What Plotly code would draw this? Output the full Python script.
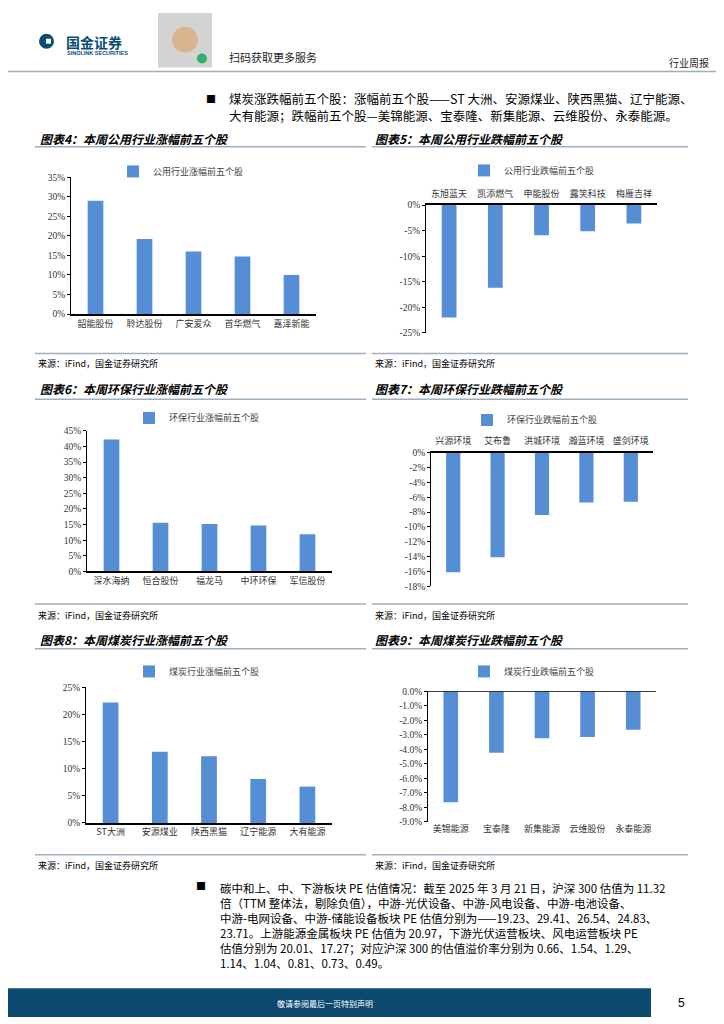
import plotly.graph_objects as go

# The page body adds an 8px margin, so the figure is drawn 8px in and the
# page coordinates below are shifted by that amount.
OFF = 8
W, H = 724 - OFF, 1024 - OFF


def px(x):
    return (x - OFF) / W


def py(y):
    return 1 - (y - OFF) / H


# ---------------- data ----------------
util_up_names = ["韶能股份", "聆达股份", "广安爱众", "首华燃气", "嘉泽新能"]
util_up_vals = [29.0, 19.2, 16.0, 14.7, 10.0]
util_down_names = ["东旭蓝天", "凯添燃气", "申能股份", "露笑科技", "梅雁吉祥"]
util_down_vals = [-22.0, -16.2, -5.9, -5.1, -3.6]
env_up_names = ["深水海纳", "恒合股份", "福龙马", "中环环保", "军信股份"]
env_up_vals = [42.2, 15.6, 15.2, 14.7, 11.9]
env_down_names = ["兴源环境", "艾布鲁", "洪城环境", "瀚蓝环境", "盛剑环境"]
env_down_vals = [-16.1, -14.1, -8.4, -6.7, -6.6]
coal_up_names = ["ST大洲", "安源煤业", "陕西黑猫", "辽宁能源", "大有能源"]
coal_up_vals = [22.2, 13.1, 12.3, 8.1, 6.7]
coal_down_names = ["美锦能源", "宝泰隆", "新集能源", "云维股份", "永泰能源"]
coal_down_vals = [-7.64, -4.24, -3.24, -3.15, -2.65]

ticks4 = [0, 5, 10, 15, 20, 25, 30, 35]
ticks5 = [-25, -20, -15, -10, -5, 0]
ticks6 = [0, 5, 10, 15, 20, 25, 30, 35, 40, 45]
ticks7 = [-18, -16, -14, -12, -10, -8, -6, -4, -2, 0]
ticks8 = [0, 5, 10, 15, 20, 25]
ticks9 = [-9, -8, -7, -6, -5, -4, -3, -2, -1, 0]

legend_names = ["公用行业涨幅前五个股", "公用行业跌幅前五个股",
                "环保行业涨幅前五个股", "环保行业跌幅前五个股",
                "煤炭行业涨幅前五个股", "煤炭行业跌幅前五个股"]
titles = ["图表4：本周公用行业涨幅前五个股", "图表5：本周公用行业跌幅前五个股",
          "图表6：本周环保行业涨幅前五个股", "图表7：本周环保行业跌幅前五个股",
          "图表8：本周煤炭行业涨幅前五个股", "图表9：本周煤炭行业跌幅前五个股"]
source_text = "来源：iFind，国金证券研究所"

top_lines = ["煤炭涨跌幅前五个股：涨幅前五个股——ST 大洲、安源煤业、陕西黑猫、辽宁能源、",
             "大有能源；跌幅前五个股—美锦能源、宝泰隆、新集能源、云维股份、永泰能源。"]
bottom_lines = ["碳中和上、中、下游板块 PE 估值情况：截至 2025 年 3 月 21 日，沪深 300 估值为 11.32",
                "倍（TTM 整体法，剔除负值），中游-光伏设备、中游-风电设备、中游-电池设备、",
                "中游-电网设备、中游-储能设备板块 PE 估值分别为——19.23、29.41、26.54、24.83、",
                "23.71。上游能源金属板块 PE 估值为 20.97，下游光伏运营板块、风电运营板块 PE",
                "估值分别为 20.01、17.27；对应沪深 300 的估值溢价率分别为 0.66、1.54、1.29、",
                "1.14、1.04、0.81、0.73、0.49。"]

# ---------------- styles ----------------
BAR = "#558ED5"
LINE = "#9BB1C3"
CJK = "Noto Sans CJK SC"
SERIF = "Liberation Serif"

charts = [
    dict(names=util_up_names, vals=util_up_vals, ticks=ticks4, fmt="{:d}%", neg=False,
         dom=(71, 316, 174, 312), leg=(181, 168)),
    dict(names=util_down_names, vals=util_down_vals, ticks=ticks5, fmt="{:d}%", neg=True,
         dom=(426, 657, 202, 331), leg=(532, 167)),
    dict(names=env_up_names, vals=env_up_vals, ticks=ticks6, fmt="{:d}%", neg=False,
         dom=(87, 332, 430, 572), leg=(197, 417)),
    dict(names=env_down_names, vals=env_down_vals, ticks=ticks7, fmt="{:d}%", neg=True,
         dom=(431, 653, 452, 587), leg=(535, 419)),
    dict(names=coal_up_names, vals=coal_up_vals, ticks=ticks8, fmt="{:d}%", neg=False,
         dom=(86, 332, 689, 826), leg=(197, 673)),
    dict(names=coal_down_names, vals=coal_down_vals, ticks=ticks9, fmt="{:.1f}%", neg=True,
         dom=(428, 656, 693, 825), leg=(532, 673), bottom_labels=True),
]

fig = go.Figure()
layout = dict(width=W, height=H, margin=dict(l=0, r=0, t=0, b=0),
              paper_bgcolor="white", plot_bgcolor="white",
              bargap=0.68, showlegend=True)
shapes = []
annotations = []

for i, c in enumerate(charts):
    k = "" if i == 0 else str(i + 1)
    legkey = "legend" + k
    fig.add_trace(go.Bar(x=c["names"], y=c["vals"], marker_color=BAR,
                         marker_line_width=0, name=legend_names[i],
                         xaxis="x" + k, yaxis="y" + k, legend=legkey))
    x0, x1, yt, yb = c["dom"]
    ticktext = [c["fmt"].format(t).replace("−", "-") for t in c["ticks"]]
    lo, hi = min(c["ticks"]), max(c["ticks"])
    top_side = c["neg"] and not c.get("bottom_labels", False)
    layout["xaxis" + k] = dict(domain=[px(x0), px(x1)], anchor="y" + k, type="category",
                               side="top" if top_side else "bottom",
                               showline=not c.get("bottom_labels", False),
                               linecolor="black", linewidth=1.5,
                               ticks="", showgrid=False, zeroline=False,
                               ticklabelstandoff=3 if top_side else 0,
                               tickfont=dict(family=CJK, size=9, color="#333"))
    layout["yaxis" + k] = dict(domain=[py(yb), py(yt)], anchor="x" + k,
                               range=[lo, hi], tickvals=c["ticks"], ticktext=ticktext,
                               showline=True, linecolor="black", linewidth=1,
                               ticks="outside", ticklen=3, tickcolor="black",
                               showgrid=False, zeroline=False,
                               tickfont=dict(family=SERIF, size=9.5, color="#333"))
    if c.get("bottom_labels", False):
        shapes.append(dict(type="line", xref="x" + k + " domain", yref="y" + k,
                           x0=0, x1=1, y0=0, y1=0, line=dict(color="black", width=1.5)))
    lx, ly = c["leg"]
    layout[legkey] = dict(x=px(lx), y=py(ly), xanchor="center", yanchor="middle",
                          orientation="h", bgcolor="rgba(0,0,0,0)",
                          font=dict(family=CJK, size=9, color="#444"),
                          itemwidth=30)

# ---------------- chart titles, rules and sources ----------------
title_pos = [(38, 135), (373, 135), (38, 387), (373, 387), (38, 641), (373, 641)]
for t, (x, y) in zip(titles, title_pos):
    annotations.append(dict(text="<b><i>" + t + "</i></b>", x=px(x), y=py(y), xref="paper",
                            yref="paper", xanchor="left", yanchor="middle", showarrow=False,
                            font=dict(family=CJK, size=12, color="black")))

for y in [143, 398, 650, 352, 605, 858]:
    shapes.append(dict(type="line", xref="paper", yref="paper", x0=px(35), x1=px(366),
                       y0=py(y), y1=py(y), line=dict(color=LINE, width=1.5)))
    shapes.append(dict(type="line", xref="paper", yref="paper", x0=px(372), x1=px(688),
                       y0=py(y), y1=py(y), line=dict(color=LINE, width=1.5)))

for y in [362, 616, 869]:
    for x in [36, 373]:
        annotations.append(dict(text=source_text, x=px(x), y=py(y), xref="paper", yref="paper",
                                xanchor="left", yanchor="middle", showarrow=False,
                                font=dict(family=CJK, size=9, color="black")))

# ---------------- header ----------------
shapes.append(dict(type="line", xref="paper", yref="paper", x0=px(0), x1=1, y0=py(67), y1=py(67),
                   line=dict(color=LINE, width=1.5)))
shapes.append(dict(type="circle", xref="paper", yref="paper", x0=px(39), x1=px(54),
                   y0=py(44), y1=py(29), fillcolor="#0B4C72", line=dict(width=0)))
shapes.append(dict(type="rect", xref="paper", yref="paper", x0=px(46), x1=px(51),
                   y0=py(39), y1=py(34), fillcolor="white", line=dict(width=0)))
shapes.append(dict(type="rect", xref="paper", yref="paper", x0=px(158), x1=px(212),
                   y0=py(63), y1=py(8), fillcolor="#D3D3D3", line=dict(width=0)))
shapes.append(dict(type="circle", xref="paper", yref="paper", x0=px(172), x1=px(198),
                   y0=py(48), y1=py(22), fillcolor="#D9B48E", line=dict(width=0)))
shapes.append(dict(type="circle", xref="paper", yref="paper", x0=px(197), x1=px(207),
                   y0=py(59), y1=py(49), fillcolor="#2DB36B", line=dict(width=0)))
annotations += [
    dict(text="<b>国金证券</b>", x=px(64), y=py(37), xanchor="left", yanchor="middle",
         font=dict(family=CJK, size=14, color="#0B4C72")),
    dict(text="<b>SINOLINK SECURITIES</b>", x=px(65), y=py(48), xanchor="left", yanchor="middle",
         font=dict(family="Liberation Sans", size=5.5, color="#0B4C72")),
    dict(text="扫码获取更多服务", x=px(227), y=py(52), xanchor="left", yanchor="middle",
         font=dict(family=CJK, size=11, color="#222")),
    dict(text="行业周报", x=px(711), y=py(58), xanchor="right", yanchor="middle",
         font=dict(family=CJK, size=10, color="#222")),
]

# ---------------- body text ----------------
annotations.append(dict(text="■", x=px(204), y=py(94), xanchor="left", yanchor="middle",
                        font=dict(family=CJK, size=10, color="black")))
for j, line in enumerate(top_lines):
    annotations.append(dict(text=line, x=px(227), y=py(94 + 17.5 * j), xanchor="left",
                            yanchor="middle", font=dict(family=CJK, size=12.5, color="black")))
annotations.append(dict(text="■", x=px(194), y=py(889), xanchor="left", yanchor="middle",
                        font=dict(family=CJK, size=10, color="black")))
annotations.append(dict(text="<br>".join(bottom_lines), x=px(218), y=py(881.5), xanchor="left",
                        yanchor="top", align="left",
                        font=dict(family=CJK, size=11.5, color="black")))

# ---------------- footer ----------------
shapes.append(dict(type="rect", xref="paper", yref="paper", x0=px(0), x1=px(651),
                   y0=py(1022), y1=py(993), fillcolor="#0B4A6E", line=dict(width=0)))
annotations += [
    dict(text="敬请参阅最后一页特别声明", x=px(275), y=py(1008), xanchor="left", yanchor="middle",
         font=dict(family=CJK, size=8, color="white")),
    dict(text="5", x=px(681), y=py(1008), xanchor="center", yanchor="middle",
         font=dict(family="Liberation Sans", size=12, color="black")),
]

for a in annotations:
    a.setdefault("xref", "paper")
    a.setdefault("yref", "paper")
    a.setdefault("showarrow", False)

layout["shapes"] = shapes
layout["annotations"] = annotations
fig.update_layout(**layout)
fig.write_html("out.html")
